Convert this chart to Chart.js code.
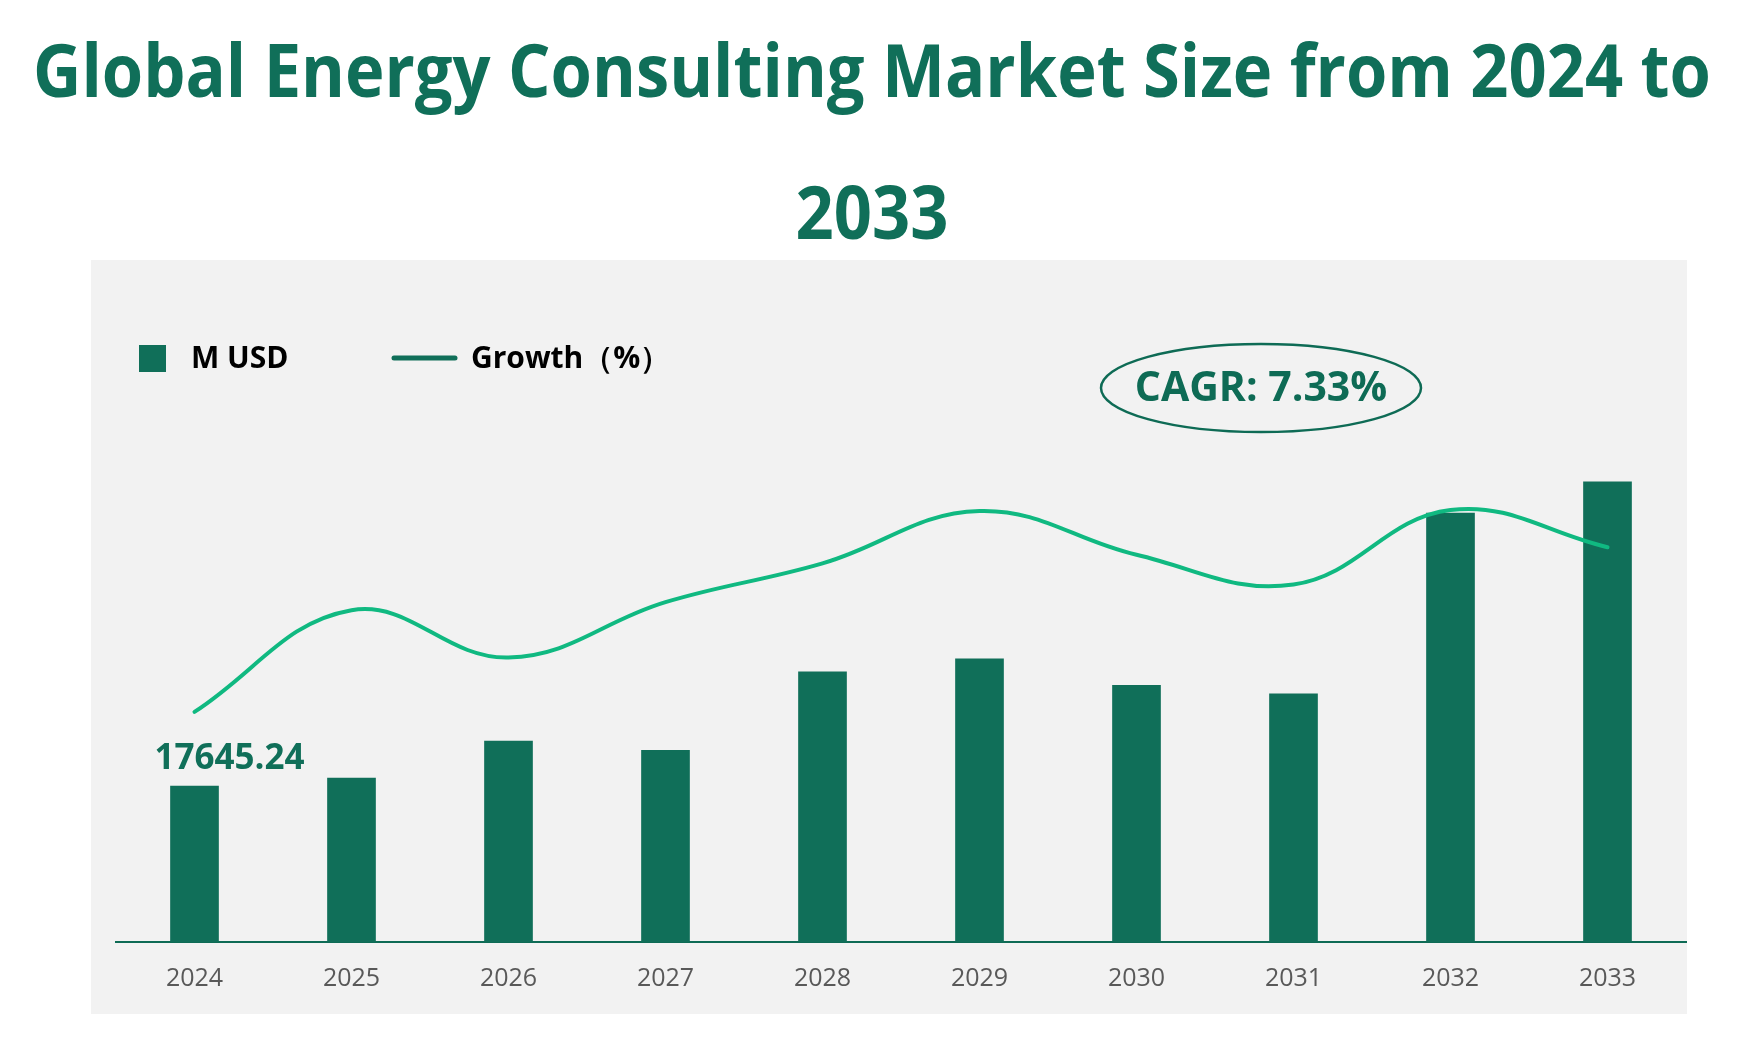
<!DOCTYPE html>
<html>
<head>
<meta charset="utf-8">
<script src="https://cdn.jsdelivr.net/npm/chart.js@4"></script>
<style>
  html, body { margin: 0; padding: 0; background: #ffffff; }
  #wrap { width: 1742px; height: 1038px; position: relative; }
</style>
</head>
<body>
<div id="wrap"><canvas id="chart" width="1742" height="1038"></canvas></div>
<script>
const years = ['2024', '2025', '2026', '2027', '2028', '2029', '2030', '2031', '2032', '2033'];
const marketSize = [17645.24, 18530, 22700, 21680, 30520, 32000, 28990, 28030, 48450, 51970];
const growth = [4.57, 6.59, 5.65, 6.75, 7.52, 8.56, 7.69, 7.10, 8.58, 7.84];
const titleLines = ['Global Energy Consulting Market Size from 2024 to', '2033'];
const cagrText = 'CAGR: 7.33%';

const dark = '#106F59';
const bright = '#10B981';
const font = '"Open Sans", "Noto Sans", sans-serif';

const decor = {
    id: 'decor',
    beforeDraw(chart) {
        const ctx = chart.ctx;
        ctx.save();
        ctx.fillStyle = '#F2F2F2';
        ctx.fillRect(91, 260, 1596, 754);

        // title, squeezed to the reference width
        ctx.fillStyle = dark;
        ctx.font = `bold 74px ${font}`;
        ctx.textAlign = 'center';
        ctx.textBaseline = 'middle';
        const w = ctx.measureText(titleLines[0]).width;
        const sx = Math.min(1, 1678 / w);
        ctx.translate(872, 0);
        ctx.scale(sx, 1);
        ctx.fillText(titleLines[0], 0, 76);
        ctx.fillText(titleLines[1], 0, 218);
        ctx.restore();
    },
    afterDraw(chart) {
        const ctx = chart.ctx;
        ctx.save();
        // legend
        ctx.fillStyle = dark;
        ctx.fillRect(139, 345, 27, 27);
        ctx.strokeStyle = dark;
        ctx.lineWidth = 5;
        ctx.lineCap = 'round';
        ctx.beginPath();
        ctx.moveTo(394, 358);
        ctx.lineTo(455, 358);
        ctx.stroke();
        ctx.fillStyle = '#000000';
        ctx.font = `bold 30px ${font}`;
        ctx.textBaseline = 'middle';
        ctx.textAlign = 'left';
        ctx.fillText('M USD', 191, 359);
        ctx.fillText('Growth（%）', 471, 359);

        // CAGR ellipse
        ctx.strokeStyle = '#0E6B55';
        ctx.lineWidth = 2.5;
        ctx.beginPath();
        ctx.ellipse(1261, 388, 160, 44, 0, 0, Math.PI * 2);
        ctx.stroke();
        ctx.fillStyle = '#0E6B55';
        ctx.font = `bold 41px ${font}`;
        ctx.textAlign = 'center';
        ctx.fillText(cagrText, 1261, 389);

        // first bar label
        const bar = chart.getDatasetMeta(0).data[0];
        ctx.fillStyle = dark;
        ctx.font = `bold 35px ${font}`;
        ctx.fillText(marketSize[0].toFixed(2), bar.x + 35, bar.y - 27);
        ctx.restore();
    }
};

new Chart(document.getElementById('chart'), {
    data: {
        labels: years,
        datasets: [{
            type: 'bar',
            label: 'M USD',
            data: marketSize,
            backgroundColor: dark,
            categoryPercentage: 1,
            barPercentage: 0.31,
            yAxisID: 'y',
            order: 1
        }, {
            type: 'line',
            label: 'Growth（%）',
            data: growth,
            borderColor: bright,
            borderWidth: 4,
            borderCapStyle: 'round',
            pointRadius: 0,
            tension: 0.4,
            yAxisID: 'y1',
            order: 0
        }]
    },
    options: {
        responsive: false,
        animation: false,
        layout: { padding: { left: 116, right: 56, top: 440, bottom: 22 } },
        plugins: {
            legend: { display: false },
            title: { display: false },
            tooltip: { enabled: false }
        },
        scales: {
            x: {
                grid: { display: false, drawTicks: false },
                border: { display: true, color: '#0E6B55', width: 2 },
                ticks: { color: '#595959', font: { size: 25, family: font }, padding: 22 }
            },
            y: { display: false, min: 0, max: 56650 },
            y1: { display: false, min: 0, max: 9.97 }
        }
    },
    plugins: [decor]
});
</script>
</body>
</html>
